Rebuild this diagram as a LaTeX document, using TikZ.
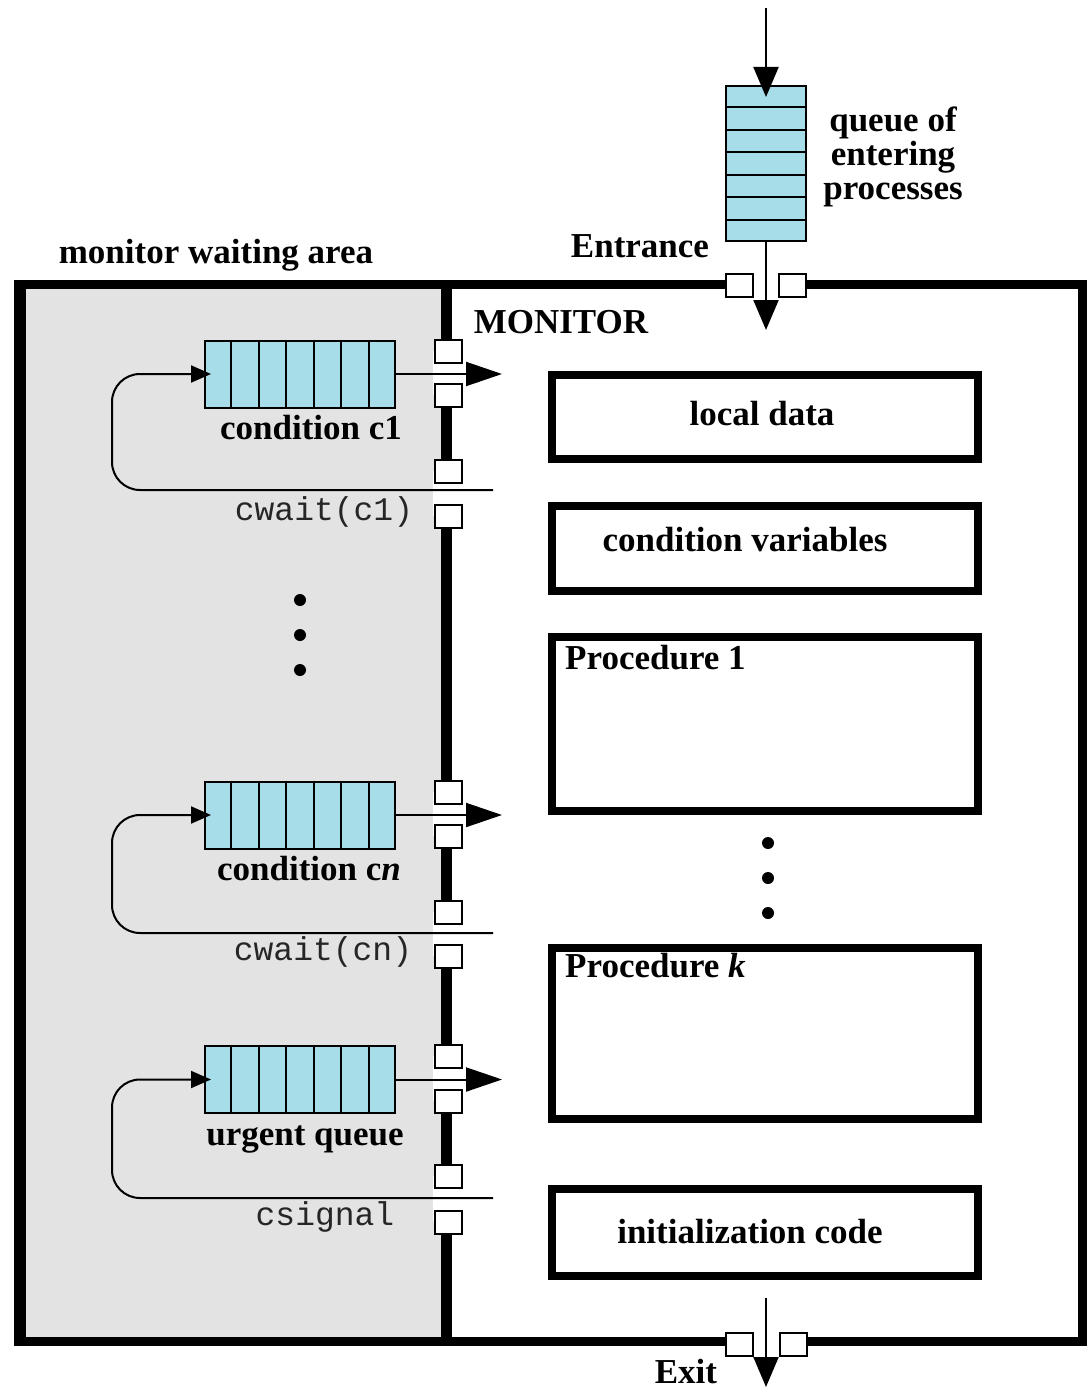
\documentclass[tikz,border=0pt]{standalone}
\usepackage{fontspec}
\setmainfont{Liberation Serif}
\setmonofont{Liberation Mono}
\usetikzlibrary{arrows.meta,calc}
\definecolor{qblue}{HTML}{A6DDE9}
\definecolor{wgray}{HTML}{E3E3E3}
\begin{document}
\begin{tikzpicture}[x=1pt,y=-1pt,
  lbl/.style={font=\fontsize{35}{34}\selectfont\bfseries, inner sep=0pt},
  code/.style={font=\fontsize{33}{40}\selectfont\ttfamily, text=black!85, inner sep=0pt},
  hqueue/.style={draw, line width=2pt, fill=qblue, minimum width=190pt, minimum height=67pt, inner sep=0pt},
  vqueue/.style={draw, line width=2pt, fill=qblue, minimum width=80pt, minimum height=155pt, inner sep=0pt},
  gate/.style={draw, fill=white, line width=2pt, minimum width=27pt, minimum height=23pt, inner sep=0pt},
  part/.style={draw, line width=8pt, minimum width=426pt, inner sep=0pt},
  flow/.style={line width=2pt},
  bigtip/.style={flow, -{Triangle[length=36pt,width=24pt]}},
  vtip/.style={flow, -{Triangle[length=30pt,width=25pt]}},
  looptip/.style={flow, rounded corners=28pt, -{Triangle[length=20pt,width=17pt]}},
]
\useasboundingbox (0,0) rectangle (1086,1388);
\fill[white] (0,0) rectangle (1086,1388);

% waiting area and frame
\fill[wgray] (19,284) rectangle (446,1341);
\draw[line width=9pt] (19,284) rectangle (1082,1341);
\draw[line width=12pt] (20,280) -- (20,1345.5);
\draw[line width=11pt] (446,284) -- (446,1341);

% gaps in the divider and in the frame
\foreach \a/\b in {351/395, 471/516, 792/836, 912/956, 1056/1101, 1176/1222}
  \fill[white] (433,\a) rectangle (461,\b);
\fill[white] (739,276) rectangle (793,293);
\fill[white] (739,1334) rectangle (793,1350);

% gates
\foreach \y [count=\k] in {351,395,471,516,792,836,912,956,1056,1101,1176,1222}
  \node[gate] (g\k) at (448,\y) {};
\node[gate] (ein1) at (739.5,285) {};
\node[gate] (ein2) at (792.5,285) {};
\node[gate] (eout1) at (739.5,1344) {};
\node[gate] (eout2) at (793,1344) {};

% queue of entering processes
\node[vqueue] (entq) at (766,163.5) {};
\foreach \i in {1,...,6}
  \draw[flow] ($(entq.north west)!\i/7!(entq.south west)$) -- ($(entq.north east)!\i/7!(entq.south east)$);

% waiting queues
\node[hqueue] (q1) at (300,374) {};
\node[hqueue] (qn) at (300,815) {};
\node[hqueue] (qu) at (300,1079.5) {};
\foreach \q in {q1,qn,qu}
  \foreach \i in {1,...,6}
    \draw[flow] ($(\q.north west)!\i/7!(\q.north east)$) -- ($(\q.south west)!\i/7!(\q.south east)$);

% monitor parts
\node[part, minimum height=84pt] (local) at (765,417) {};
\node[part, minimum height=85pt] (cvars) at (765,548.5) {};
\node[part, minimum height=174pt] (proc1) at (765,724) {};
\node[part, minimum height=171pt] (prock) at (765,1033.5) {};
\node[part, minimum height=87pt] (init) at (765,1232.5) {};

% entrance / exit arrows
\coordinate (src) at (766,8);
\coordinate (entin) at (766,330);
\coordinate (exs) at (766,1298);
\coordinate (exe) at (766,1387);
\draw[vtip] (src) -- ([yshift=-12pt]entq.north);
\draw[vtip] (entq.south) -- (entin);
\draw[vtip] (exs) -- (exe);

% queue outputs
\coordinate (o1) at (502,374);
\coordinate (on) at (502,815);
\coordinate (ou) at (502,1079.5);
\draw[bigtip] (q1.east) -- (o1);
\draw[bigtip] (qn.east) -- (on);
\draw[bigtip] (qu.east) -- (ou);

% return loops
\coordinate (w1) at (493,490);
\coordinate (wn) at (493,933);
\coordinate (wu) at (493,1198);
\draw[looptip] (w1) -| ($(q1.west)+(-92,0)$) -- ([xshift=7pt]q1.west);
\draw[looptip] (wn) -| ($(qn.west)+(-92,0)$) -- ([xshift=7pt]qn.west);
\draw[looptip] (wu) -| ($(qu.west)+(-92,0)$) -- ([xshift=7pt]qu.west);

% dots
\foreach \y in {600,635,670} \fill (300,\y) circle (6pt);
\foreach \y in {843,878,913} \fill (768,\y) circle (6pt);

% texts
\node[lbl, anchor=base] (tmwa) at (216,263) {monitor waiting area};
\node[lbl, anchor=base] (tent) at (640,258) {Entrance};
\node[lbl, align=center] (tqep) at (893,157) {queue of\\entering\\processes};
\node[lbl, anchor=base] (tmon) at (561,333) {MONITOR};
\node[lbl, anchor=base] (texit) at (686,1383) {Exit};
\node[lbl, anchor=base] (tloc) at (762,425) {local data};
\node[lbl, anchor=base] (tcv) at (745,551) {condition variables};
\node[lbl, anchor=base west] (tp1) at (565,669) {Procedure 1};
\node[lbl, anchor=base west] (tpk) at (565,977) {Procedure \textit{k}};
\node[lbl, anchor=base] (tinit) at (750,1243) {initialization code};
\node[lbl, anchor=base] (tc1) at (311,439) {condition c1};
\node[lbl, anchor=base] (tcn) at (309,880) {condition c\textit{n}};
\node[lbl, anchor=base] (tuq) at (305,1145) {urgent queue};
\node[code, anchor=base] (tw1) at (324,520) {cwait(c1)};
\node[code, anchor=base] (twn) at (323,960) {cwait(cn)};
\node[code, anchor=base] (tsig) at (325,1225) {csignal};
\end{tikzpicture}
\end{document}
